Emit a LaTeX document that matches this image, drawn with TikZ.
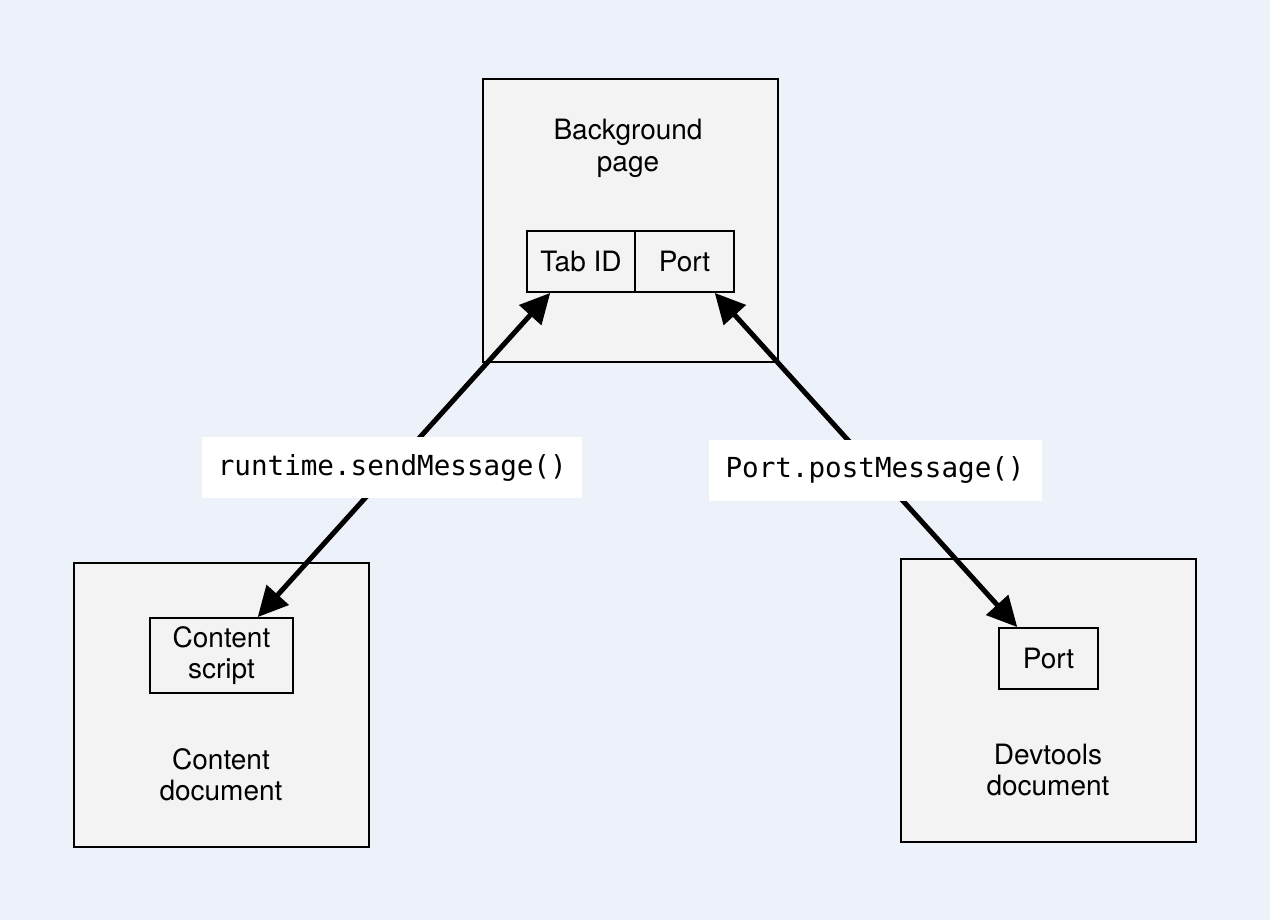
\documentclass[tikz,border=0pt]{standalone}
\usepackage{fontspec}
\setmainfont{TeX Gyre Heros}
\setmonofont{DejaVu Sans Mono}
\usetikzlibrary{arrows.meta,calc}

\definecolor{pagecolor}{rgb}{0.929, 0.945, 0.976}
\definecolor{boxcolor}{rgb}{0.953, 0.953, 0.953}

\tikzset{
  frame/.style={draw=black, fill=boxcolor, line width=1.8pt, inner sep=0pt},
  cell/.style={draw=black, fill=boxcolor, line width=1.8pt, inner sep=0pt,
    font=\fontsize{28}{31.5}\selectfont, align=center},
  caption/.style={font=\fontsize{28}{31.5}\selectfont, align=center, inner sep=0pt},
  msglabel/.style={fill=white, inner sep=0pt, minimum height=61pt,
    font=\ttfamily\fontsize{27.6}{30}\selectfont},
  msgarrow/.style={line width=5pt,
    {Triangle[length=30pt,width=29pt]}-{Triangle[length=30pt,width=29pt]}}
}

\begin{document}
\begin{tikzpicture}[x=1pt,y=-1pt]
% page
\fill[pagecolor] (0,0) rectangle (1270,920);
\useasboundingbox (0,0) rectangle (1270,920);

% background page
\node[frame, minimum width=295pt, minimum height=283pt] (bgpage) at (630.5,220.5) {};
\node[caption] (bgtext) at (628,148.5) {Background\\page};
\node[cell, minimum width=108pt, minimum height=61pt] (tabid) at (581,261.5) {Tab ID};
\node[cell, minimum width=99pt, minimum height=61pt] (bgport) at (684.5,261.5) {Port};

% content document
\node[frame, minimum width=295pt, minimum height=284pt] (contentdoc) at (221.5,705) {};
\node[cell, minimum width=143pt, minimum height=75pt] (cscript) at (221.5,655.5) {Content\\script};
\node[caption] (cdtext) at (221,774.5) {Content\\document};

% devtools document
\node[frame, minimum width=295pt, minimum height=283pt] (devdoc) at (1048.5,700.5) {};
\node[cell, minimum width=99pt, minimum height=61pt] (devport) at (1048.5,658.5) {Port};
\node[caption] (ddtext) at (1048,770) {Devtools\\document};

% messages
\coordinate (tabtip) at ($(tabid.south west)!0.22!(tabid.south east)$);
\coordinate (cstip) at ($(cscript.north west)!0.75!(cscript.north east)$);
\coordinate (porttip) at ($(bgport.south west)!0.8!(bgport.south east)$);
\coordinate (devtip) at ($(devport.north west)!0.19!(devport.north east)$);

\draw[msgarrow] (tabtip) -- node[msglabel, pos=0.54, minimum width=380pt] (sendlbl) {runtime.sendMessage()} (cstip);
\draw[msgarrow] (porttip) -- node[msglabel, pos=0.53, minimum width=333pt] (postlbl) {Port.postMessage()} (devtip);
\end{tikzpicture}
\end{document}
